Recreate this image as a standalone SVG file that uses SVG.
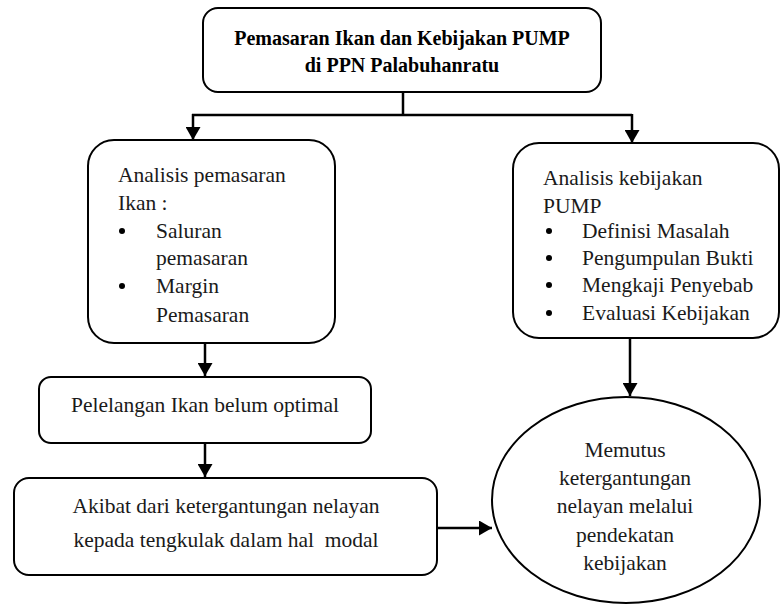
<svg xmlns="http://www.w3.org/2000/svg" width="781" height="606" viewBox="0 0 781 606">
<style>
.box{fill:#fff;stroke:#000;stroke-width:2}
.t{font-family:'Liberation Serif','DejaVu Serif','Noto Serif',Times,serif;font-size:21.5px;fill:#1a1a1a}
.c{text-anchor:middle}
.b{font-weight:bold;font-size:20px;fill:#000}
.con{stroke:#000;stroke-width:2.5;fill:none}
.dot{fill:#000}
</style>
<defs>
<marker id="ah" markerUnits="userSpaceOnUse" markerWidth="14" markerHeight="15" refX="13" refY="7.5" orient="auto">
<path d="M0,0 L13,7.5 L0,15 Z" fill="#000"/>
</marker>
</defs>
<rect width="781" height="606" fill="#fff"/>
<g id="connectors">
<line class="con" x1="403" y1="92" x2="403" y2="115"/>
<line class="con" x1="192" y1="115" x2="632" y2="115"/>
<line class="con" x1="193" y1="114" x2="193" y2="140" marker-end="url(#ah)"/>
<line class="con" x1="632" y1="114" x2="632" y2="143" marker-end="url(#ah)"/>
<line class="con" x1="205" y1="343" x2="205" y2="376" marker-end="url(#ah)"/>
<line class="con" x1="205" y1="443" x2="205" y2="477" marker-end="url(#ah)"/>
<line class="con" x1="630" y1="338" x2="630" y2="396" marker-end="url(#ah)"/>
<line class="con" x1="437" y1="528" x2="492" y2="528" marker-end="url(#ah)"/>
</g>
<g id="title">
<rect class="box" x="203" y="8" width="398" height="84" rx="15"/>
<text class="t c b" x="402" y="45">Pemasaran Ikan dan Kebijakan PUMP</text>
<text class="t c b" x="402" y="72">di PPN Palabuhanratu</text>
</g>
<g id="analisis-pemasaran">
<rect class="box" x="88" y="140" width="247" height="203" rx="26"/>
<text class="t" x="118" y="182">Analisis pemasaran</text>
<text class="t" x="118" y="210">Ikan :</text>
<circle class="dot" cx="122" cy="231" r="3"/>
<text class="t" x="156" y="238">Saluran</text>
<text class="t" x="156" y="265">pemasaran</text>
<circle class="dot" cx="122" cy="286" r="3"/>
<text class="t" x="156" y="293">Margin</text>
<text class="t" x="156" y="322">Pemasaran</text>
</g>
<g id="analisis-kebijakan">
<rect class="box" x="513" y="143" width="266" height="195" rx="26"/>
<text class="t" x="543" y="185">Analisis kebijakan</text>
<text class="t" x="543" y="213">PUMP</text>
<circle class="dot" cx="549" cy="231" r="3"/>
<text class="t" x="582" y="238">Definisi Masalah</text>
<circle class="dot" cx="549" cy="258" r="3"/>
<text class="t" x="582" y="265">Pengumpulan Bukti</text>
<circle class="dot" cx="549" cy="285" r="3"/>
<text class="t" x="582" y="292">Mengkaji Penyebab</text>
<circle class="dot" cx="549" cy="313" r="3"/>
<text class="t" x="582" y="320">Evaluasi Kebijakan</text>
</g>
<g id="pelelangan">
<rect class="box" x="39" y="377" width="332" height="66" rx="12"/>
<text class="t c" x="205" y="412">Pelelangan Ikan belum optimal</text>
</g>
<g id="akibat">
<rect class="box" x="14" y="478" width="423" height="97" rx="15"/>
<text class="t c" x="226" y="513">Akibat dari ketergantungan nelayan</text>
<text class="t c" x="226" y="547" xml:space="preserve">kepada tengkulak dalam hal  modal</text>
</g>
<g id="memutus">
<ellipse class="box" cx="626" cy="500" rx="134" ry="103"/>
<text class="t c" x="625" y="457">Memutus</text>
<text class="t c" x="625" y="485">ketergantungan</text>
<text class="t c" x="625" y="513">nelayan melalui</text>
<text class="t c" x="625" y="542">pendekatan</text>
<text class="t c" x="625" y="570">kebijakan</text>
</g>
</svg>
